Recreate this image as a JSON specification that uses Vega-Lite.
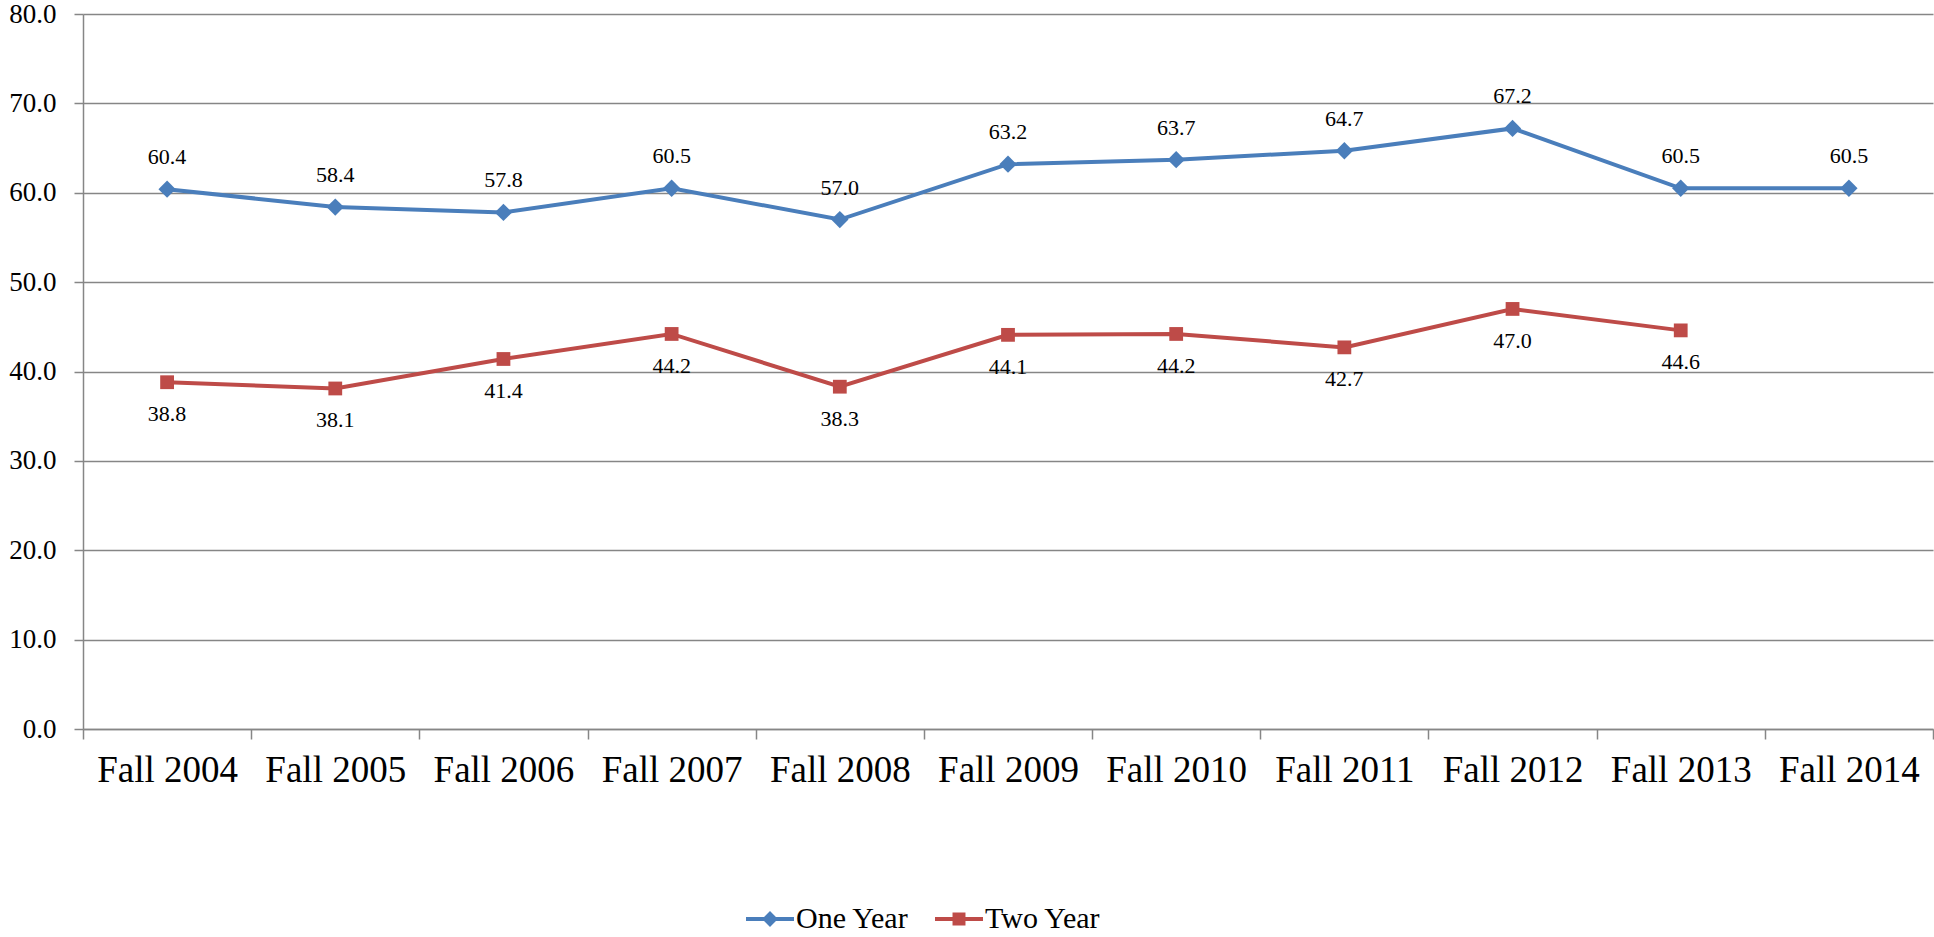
{
  "$schema": "https://vega.github.io/schema/vega-lite/v6.json",
  "width": 1850,
  "height": 715,
  "autosize": {"type": "none"},
  "padding": {"left": 83, "top": 14, "right": 1, "bottom": 208},
  "background": "white",
  "config": {
    "font": "Liberation Serif",
    "view": {"stroke": null}
  },
  "data": {
    "values": [
      {"year": "Fall 2004", "series": "One Year", "value": 60.4},
      {"year": "Fall 2005", "series": "One Year", "value": 58.4},
      {"year": "Fall 2006", "series": "One Year", "value": 57.8},
      {"year": "Fall 2007", "series": "One Year", "value": 60.5},
      {"year": "Fall 2008", "series": "One Year", "value": 57.0},
      {"year": "Fall 2009", "series": "One Year", "value": 63.2},
      {"year": "Fall 2010", "series": "One Year", "value": 63.7},
      {"year": "Fall 2011", "series": "One Year", "value": 64.7},
      {"year": "Fall 2012", "series": "One Year", "value": 67.2},
      {"year": "Fall 2013", "series": "One Year", "value": 60.5},
      {"year": "Fall 2014", "series": "One Year", "value": 60.5},
      {"year": "Fall 2004", "series": "Two Year", "value": 38.8},
      {"year": "Fall 2005", "series": "Two Year", "value": 38.1},
      {"year": "Fall 2006", "series": "Two Year", "value": 41.4},
      {"year": "Fall 2007", "series": "Two Year", "value": 44.2},
      {"year": "Fall 2008", "series": "Two Year", "value": 38.3},
      {"year": "Fall 2009", "series": "Two Year", "value": 44.1},
      {"year": "Fall 2010", "series": "Two Year", "value": 44.2},
      {"year": "Fall 2011", "series": "Two Year", "value": 42.7},
      {"year": "Fall 2012", "series": "Two Year", "value": 47.0},
      {"year": "Fall 2013", "series": "Two Year", "value": 44.6}
    ]
  },
  "encoding": {
    "x": {
      "field": "year",
      "type": "nominal",
      "sort": null,
      "title": null,
      "scale": {"type": "band", "paddingInner": 0, "paddingOuter": 0},
      "axis": {
        "labelAngle": 0,
        "labelFontSize": 37,
        "labelColor": "#000000",
        "labelPadding": 13,
        "tickBand": "extent",
        "tickSize": 10,
        "tickColor": "#868686",
        "tickWidth": 1.5,
        "domainColor": "#868686",
        "domainWidth": 1.5,
        "grid": false
      }
    },
    "y": {
      "field": "value",
      "type": "quantitative",
      "title": null,
      "scale": {"domain": [0, 80], "nice": false},
      "axis": {
        "values": [0, 10, 20, 30, 40, 50, 60, 70, 80],
        "format": ".1f",
        "labelFontSize": 27,
        "labelColor": "#000000",
        "labelPadding": 18,
        "tickSize": 9,
        "tickColor": "#868686",
        "tickWidth": 1.5,
        "domainColor": "#868686",
        "domainWidth": 1.5,
        "grid": true,
        "gridColor": "#868686",
        "gridWidth": 1.5
      }
    }
  },
  "layer": [
    {
      "mark": {"type": "line", "strokeWidth": 4},
      "encoding": {
        "color": {
          "field": "series",
          "type": "nominal",
          "scale": {"domain": ["One Year", "Two Year"], "range": ["#4A7EBB", "#BE4B48"]},
          "legend": {
            "title": null,
            "orient": "none",
            "direction": "horizontal",
            "legendX": 663,
            "legendY": 881,
            "labelFontSize": 30,
            "labelLimit": 400,
            "labelColor": "#000000",
            "labelOffset": 2,
            "columnPadding": 26,
            "symbolSize": 2304,
            "symbolStrokeWidth": 0,
            "symbolType": "M-1,-0.085L1,-0.085L1,0.085L-1,0.085Z M0,-0.33L0.33,0L0,0.33L-0.33,0Z",
            "encode": {
              "symbols": {
                "update": {
                  "shape": {"signal": "datum.value === 'One Year' ? 'M-1,-0.085L1,-0.085L1,0.085L-1,0.085Z M0,-0.33L0.33,0L0,0.33L-0.33,0Z' : 'M-1,-0.085L1,-0.085L1,0.085L-1,0.085Z M-0.27,-0.27L0.27,-0.27L0.27,0.27L-0.27,0.27Z'"},
                  "fill": {"signal": "scale('color', datum.value)"},
                  "stroke": {"value": "transparent"},
                  "strokeWidth": {"value": 0},
                  "opacity": {"value": 1}
                }
              }
            }
          }
        }
      }
    },
    {
      "transform": [{"filter": "datum.series === 'One Year'"}],
      "mark": {"type": "point", "filled": true, "opacity": 1, "shape": "diamond", "size": 300},
      "encoding": {
        "color": {"field": "series", "type": "nominal"}
      }
    },
    {
      "transform": [{"filter": "datum.series === 'Two Year'"}],
      "mark": {"type": "point", "filled": true, "opacity": 1, "shape": "square", "size": 190},
      "encoding": {
        "color": {"field": "series", "type": "nominal"}
      }
    },
    {
      "transform": [{"filter": "datum.series === 'One Year'"}],
      "mark": {"type": "text", "dy": -32, "fontSize": 22, "color": "#000000"},
      "encoding": {
        "text": {"field": "value", "type": "quantitative", "format": ".1f"}
      }
    },
    {
      "transform": [{"filter": "datum.series === 'Two Year'"}],
      "mark": {"type": "text", "dy": 32, "fontSize": 22, "color": "#000000"},
      "encoding": {
        "text": {"field": "value", "type": "quantitative", "format": ".1f"}
      }
    }
  ]
}
